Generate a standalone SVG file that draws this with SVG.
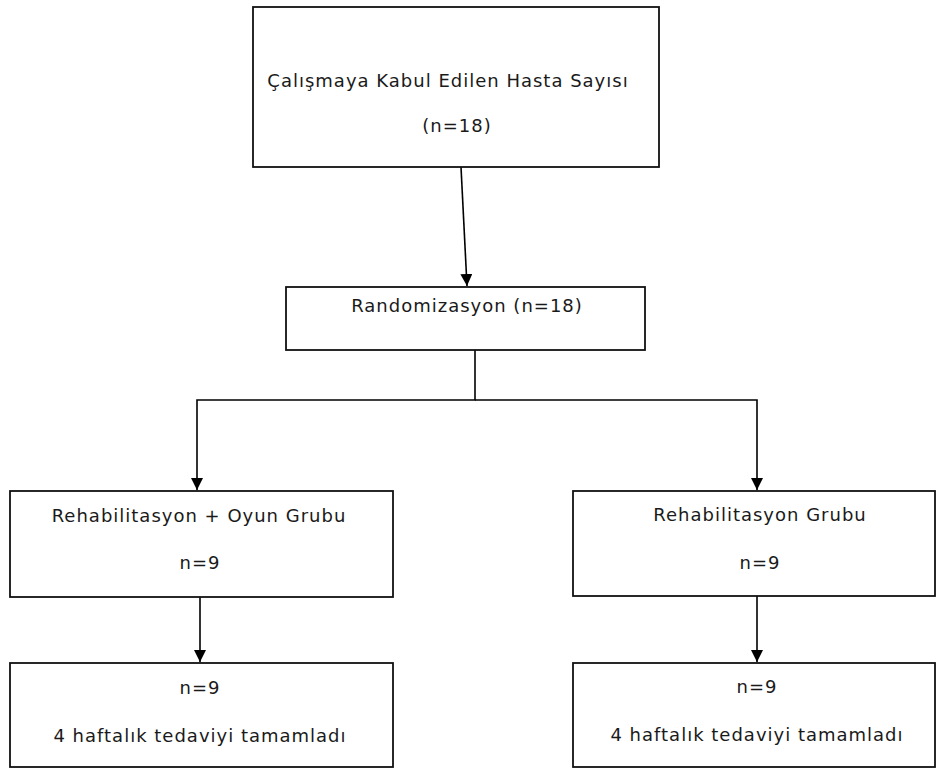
<svg xmlns="http://www.w3.org/2000/svg" width="938" height="769" viewBox="0 0 938 769">
<defs>
<marker id="arr" markerUnits="userSpaceOnUse" markerWidth="12" markerHeight="12" viewBox="0 0 12 12" refX="12" refY="6" orient="auto">
<path d="M0,0 L12,6 L0,12 Z" fill="#000"/>
</marker>
<style>
.box{fill:#fff;stroke:#111;stroke-width:1.8}
.t{font-family:"DejaVu Sans",Verdana,sans-serif;font-size:18px;letter-spacing:1px;fill:#1a1a1a;text-anchor:middle}
.c{fill:none;stroke:#000;stroke-width:1.6}
</style>
</defs>
<rect width="938" height="769" fill="#fff"/>
<g id="connectors">
<line class="c" x1="461" y1="167" x2="467" y2="286" marker-end="url(#arr)"/>
<polyline class="c" points="475,350 475,400 197,400 197,490" marker-end="url(#arr)"/>
<polyline class="c" points="475,400 757,400 757,490" marker-end="url(#arr)"/>
<line class="c" x1="200" y1="597" x2="200" y2="662" marker-end="url(#arr)"/>
<line class="c" x1="757" y1="596" x2="757" y2="662" marker-end="url(#arr)"/>
</g>
<g id="n_kabul">
<rect class="box" x="253" y="7" width="406" height="160"/>
<text class="t" x="448" y="87">Çalışmaya Kabul Edilen Hasta Sayısı</text>
<text class="t" x="457" y="132">(n=18)</text>
</g>
<g id="n_random">
<rect class="box" x="286" y="287" width="359" height="63"/>
<text class="t" x="467" y="312">Randomizasyon (n=18)</text>
</g>
<g id="n_oyun">
<rect class="box" x="10" y="491" width="383" height="106"/>
<text class="t" x="199" y="522">Rehabilitasyon + Oyun Grubu</text>
<text class="t" x="200" y="569">n=9</text>
</g>
<g id="n_rehab">
<rect class="box" x="573" y="491" width="362" height="105"/>
<text class="t" x="760" y="521">Rehabilitasyon Grubu</text>
<text class="t" x="760" y="569">n=9</text>
</g>
<g id="n_oyun_son">
<rect class="box" x="10" y="663" width="383" height="104"/>
<text class="t" x="200" y="694">n=9</text>
<text class="t" x="200" y="742">4 haftalık tedaviyi tamamladı</text>
</g>
<g id="n_rehab_son">
<rect class="box" x="573" y="663" width="362" height="104"/>
<text class="t" x="757" y="693">n=9</text>
<text class="t" x="757" y="741">4 haftalık tedaviyi tamamladı</text>
</g>
</svg>
